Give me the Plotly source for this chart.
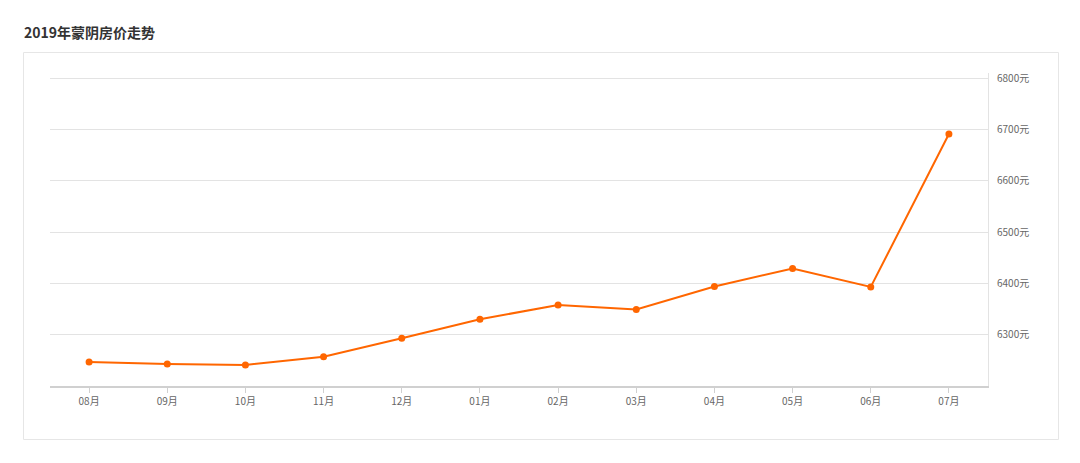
import plotly.graph_objects as go

months = ["08月", "09月", "10月", "11月", "12月", "01月", "02月", "03月", "04月", "05月", "06月", "07月"]
prices = [6247, 6243, 6241, 6257, 6293, 6330, 6358, 6349, 6394, 6429, 6393, 6691]
y_ticks = [6300, 6400, 6500, 6600, 6700, 6800]
y_labels = [f"{v}元" for v in y_ticks]
title_text = "2019年蒙阴房价走势"

font_family = "Noto Sans CJK SC, Noto Sans, sans-serif"

fig = go.Figure()
fig.add_trace(go.Scatter(
    x=months, y=prices, mode="lines+markers",
    line=dict(color="#ff6600", width=2),
    marker=dict(color="#ff6600", size=7),
    hoverinfo="x+y",
    showlegend=False,
))

L, R, T, B = 50, 92, 73, 77
pw = 1080 - L - R
ph = 463 - T - B

def px_x(x):
    return (x - L) / pw

def px_y(y):
    return (463 - B - y) / ph

fig.update_layout(
    width=1080, height=463,
    margin=dict(l=L, r=R, t=T, b=B),
    paper_bgcolor="white", plot_bgcolor="white",
    font=dict(family=font_family, color="#666666", size=10),
    xaxis=dict(
        type="category", showgrid=False,
        showline=True, linecolor="#d0d0d0", linewidth=2,
        ticks="outside", ticklen=5, tickcolor="#d0d0d0", tickwidth=1,
        tickfont=dict(size=10, color="#666666"),
        range=[-0.5, len(months) - 0.5],
        zeroline=False, fixedrange=True,
    ),
    yaxis=dict(
        side="right", range=[6200, 6810],
        tickvals=y_ticks, ticktext=y_labels,
        showgrid=True, gridcolor="#e3e3e3", gridwidth=1,
        showline=True, linecolor="#e3e3e3", linewidth=1,
        ticks="", ticklabelstandoff=6,
        tickfont=dict(size=10, color="#666666"),
        zeroline=False, fixedrange=True,
    ),
    shapes=[
        dict(type="rect", xref="paper", yref="paper",
             x0=px_x(23.5), x1=px_x(1058.5), y0=px_y(439.5), y1=px_y(52.5),
             line=dict(color="#e6e6e6", width=1), fillcolor="rgba(0,0,0,0)", layer="below"),
    ],
    annotations=[
        dict(text="<b>" + title_text + "</b>", xref="paper", yref="paper",
             x=px_x(22), y=px_y(32), xanchor="left", yanchor="middle",
             showarrow=False, font=dict(size=14, color="#333333", family=font_family)),
    ],
)

fig.write_html("out.html", config={"displayModeBar": False},
               post_script="document.body.style.margin='0';")
